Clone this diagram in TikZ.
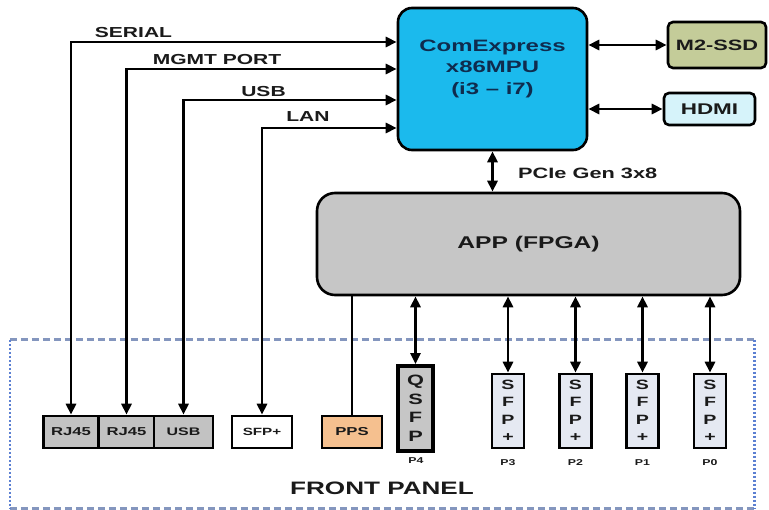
\documentclass[tikz,border=0pt]{standalone}
\usepackage{fontspec}
\setmainfont{Liberation Sans}[FakeStretch=1.45]
\usetikzlibrary{arrows.meta}
\definecolor{cpufill}{HTML}{1BBAED}
\definecolor{cputext}{HTML}{0F2C4E}
\definecolor{ssdfill}{HTML}{C4CC99}
\definecolor{hdmifill}{HTML}{D6F3FA}
\definecolor{fpgafill}{HTML}{C6C6C6}
\definecolor{portfill}{HTML}{C2C2C2}
\definecolor{ppsfill}{HTML}{F5C08F}
\definecolor{sfpfill}{HTML}{E5E9F2}
\definecolor{fpdash}{HTML}{8496BE}
\definecolor{fpdot}{HTML}{5C80D2}
\definecolor{ink}{HTML}{1A1A1A}
\begin{document}
\begin{tikzpicture}[x=1pt,y=-1pt,
  font=\bfseries, text=ink,
  blk/.style={draw=black, line width=2.6pt, inner sep=0pt},
  fs/.style={font=\bfseries\fontsize{#1}{#1}\selectfont},
  conn/.style={line width=2.8pt, {Triangle[length=11pt,width=10pt]}-{Triangle[length=11pt,width=10pt]}},
  plain/.style={line width=2.8pt},
  port/.style={blk, fill=portfill, minimum width=55pt, minimum height=32pt, fs=11.5},
  vbox/.style={blk, fill=sfpfill, minimum width=32pt, minimum height=74pt, align=center,
    font=\bfseries\fontsize{13.5}{17.5}\selectfont},
  plbl/.style={fs=8.5},
  lbl/.style={fs=14.5, inner sep=0pt}
]
\useasboundingbox (0,0) rectangle (769,510);
\fill[white] (0,0) rectangle (769,510);

% front panel
\node[minimum width=744pt, minimum height=168pt, inner sep=0pt] (fp) at (382,424) {};
\draw[fpdash, line width=3pt, dash pattern=on 7pt off 4pt] (fp.north west) -- (fp.north east);
\draw[fpdash, line width=3pt, dash pattern=on 7pt off 4pt] (fp.south west) -- (fp.south east);
\draw[fpdot, line width=2.6pt, dash pattern=on 2pt off 2pt] (fp.north west) -- (fp.south west);
\draw[fpdot, line width=2.6pt, dash pattern=on 2pt off 2pt] (fp.north east) -- (fp.south east);
\node[fs=18, inner sep=0pt] (fptxt) at (382,488) {FRONT PANEL};

% CPU
\node[blk, fill=cpufill, rounded corners=14pt, minimum width=189pt, minimum height=142pt] (cpu) at (492.5,79) {};
\node[align=center, text=cputext, font=\bfseries\fontsize{16.5}{21.5}\selectfont] (cputxt) at (492.5,68.5) {ComExpress\\x86MPU\\(i3 -- i7)};

% M2-SSD and HDMI
\node[blk, fill=ssdfill, rounded corners=5pt, minimum width=98pt, minimum height=46pt, fs=15] (ssd) at (717,45) {M2-SSD};
\node[blk, fill=hdmifill, rounded corners=5pt, minimum width=91pt, minimum height=32pt, fs=15.5] (hdmi) at (709.5,109) {HDMI};
\draw[conn] (cpu.east |- ssd.west) -- (ssd.west);
\draw[conn] (cpu.east |- hdmi.west) -- (hdmi.west);

% FPGA
\node[blk, fill=fpgafill, rounded corners=18pt, minimum width=423pt, minimum height=102pt, fs=17] (fpga) at (528.5,244) {APP (FPGA)};
\draw[conn] (cpu.south) -- (cpu.south |- fpga.north);
\node[fs=15, anchor=west, inner sep=0pt] (pcie) at (518,173) {PCIe Gen 3x8};

% left ports
\node[port] (rj1) at (71,432) {RJ45};
\node[port] (rj2) at (126.5,432) {RJ45};
\node[port, minimum width=59pt, fs=11] (usbp) at (183.5,432) {USB};
\node[blk, fill=white, minimum width=60pt, minimum height=32pt, fs=10.5] (sfpl) at (262,432) {SFP+};
\node[port, fill=ppsfill, minimum width=60pt, fs=11.5] (pps) at (352,432) {PPS};

\draw[conn] (rj1.north) |- (cpu.west |- 0,42);
\draw[conn] (rj2.north) |- (cpu.west |- 0,69);
\draw[conn] (usbp.north) |- (cpu.west |- 0,100);
\draw[conn] (sfpl.north) |- (cpu.west |- 0,128);
\draw[plain] (pps.north) -- (pps.north |- fpga.south);

\node[lbl] (lser) at (133.5,33) {SERIAL};
\node[lbl] (lmgmt) at (217,60) {MGMT PORT};
\node[lbl] (lusb) at (263.5,92) {USB};
\node[lbl] (llan) at (308,117) {LAN};

% QSFP / SFP
\node[vbox, fill=fpgafill, line width=3.8pt, minimum width=35pt, minimum height=85pt,
  font=\bfseries\fontsize{15}{18.5}\selectfont] (qsfp) at (415.5,408.5) {Q\\S\\F\\P};
\node[vbox] (p3) at (508,411) {S\\F\\P\\+};
\node[vbox] (p2) at (575.5,411) {S\\F\\P\\+};
\node[vbox] (p1) at (642.5,411) {S\\F\\P\\+};
\node[vbox] (p0) at (710,411) {S\\F\\P\\+};

\foreach \n in {qsfp,p3,p2,p1,p0}
  \draw[conn] (\n.north) -- (\n.north |- fpga.south);

\node[plbl] (l4) at (416,461) {P4};
\node[plbl] (l3) at (508,463) {P3};
\node[plbl] (l2) at (575.5,463) {P2};
\node[plbl] (l1) at (642.5,463) {P1};
\node[plbl] (l0) at (710,463) {P0};
\end{tikzpicture}
\end{document}
